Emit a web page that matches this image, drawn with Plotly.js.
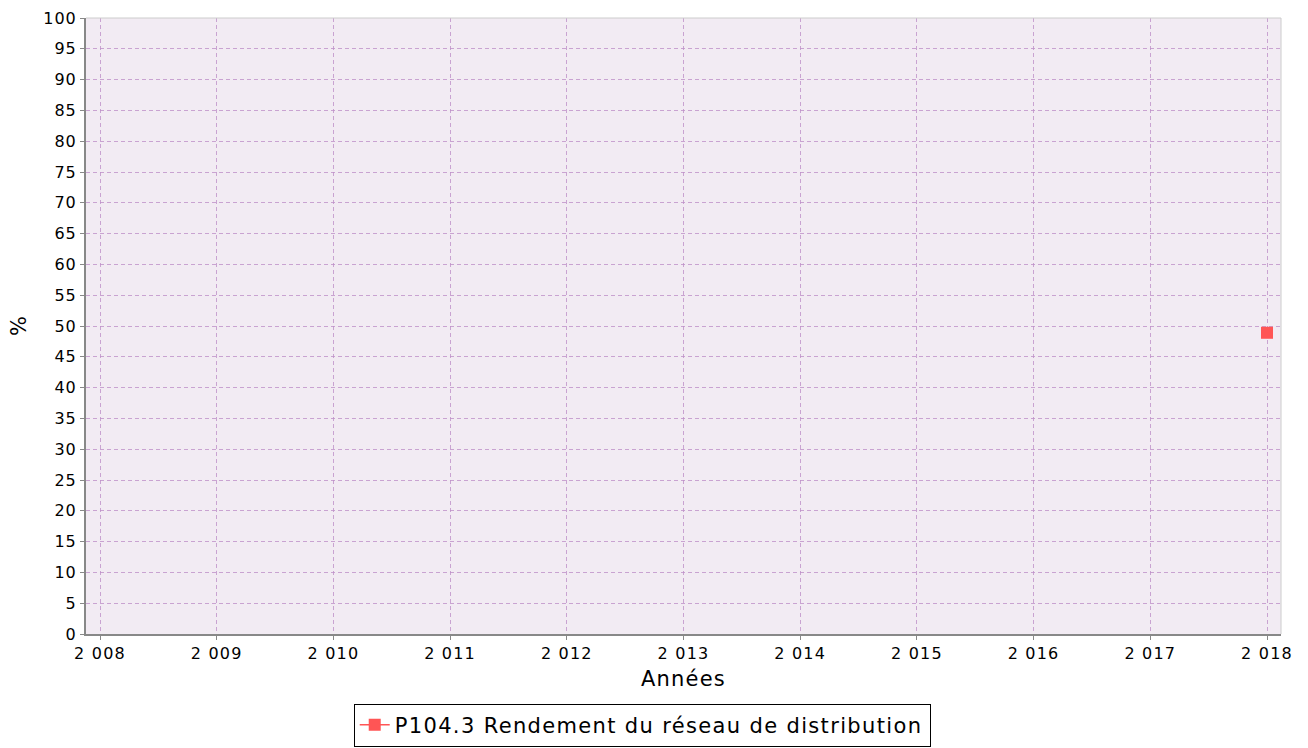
<!DOCTYPE html>
<html>
<head>
<meta charset="utf-8">
<script src="https://cdn.plot.ly/plotly-3.0.1.min.js"></script>
<style>
body{margin:0;background:#fff;}
#chart{width:1308px;height:748px;}
#chart .legendtext{letter-spacing:1.35px;}
#chart .xtitle{letter-spacing:1.2px;}
#chart .xtick text{letter-spacing:1.2px;}
#chart .ytick text{letter-spacing:1px;}
</style>
</head>
<body>
<div id="chart"></div>
<script>
const years = [2018];
const values = [48.9];
const seriesName = "P104.3 Rendement du réseau de distribution";
const xTickVals = [2008, 2009, 2010, 2011, 2012, 2013, 2014, 2015, 2016, 2017, 2018];
const xTickText = ["2 008", "2 009", "2 010", "2 011", "2 012", "2 013", "2 014", "2 015", "2 016", "2 017", "2 018"];
const yTickVals = [0,5,10,15,20,25,30,35,40,45,50,55,60,65,70,75,80,85,90,95,100];

const fam = "DejaVu Sans, sans-serif";
const tickFont = {family: fam, size: 16, color: "#000"};
const titleFont = {family: fam, size: 21, color: "#000"};
const trace = {
  x: years, y: values, name: seriesName,
  type: "scatter", mode: "lines+markers",
  line: {color: "#ff5555", width: 1.5},
  marker: {symbol: "square", size: 12, color: "#ff5555"},
  showlegend: true
};
const grid = {showgrid: true, gridcolor: "rgba(190,145,200,0.8)", griddash: "4px,3px", gridwidth: 1};
const layout = {
  width: 1308, height: 748,
  margin: {l: 86, r: 27, t: 18, b: 114, autoexpand: false},
  paper_bgcolor: "#ffffff",
  plot_bgcolor: "#f2ebf3",
  font: tickFont,
  showlegend: true,
  legend: {
    orientation: "h", xref: "container", yref: "container",
    x: 0.491, xanchor: "center", y: 0.002, yanchor: "bottom",
    bordercolor: "#000", borderwidth: 1, bgcolor: "#fff",
    font: {family: fam, size: 21, color: "#000"},
    entrywidth: 530, entrywidthmode: "pixels",
    tracegroupgap: 0
  },
  xaxis: Object.assign({
    range: [2007.88, 2018.12],
    tickvals: xTickVals, ticktext: xTickText,
    showline: true, linecolor: "#888888", linewidth: 2,
    ticks: "outside", ticklen: 4, tickcolor: "#888888",
    zeroline: false, automargin: false,
    tickfont: tickFont,
    title: {text: "Années", font: titleFont, standoff: 9}
  }, grid),
  yaxis: Object.assign({
    range: [0, 100],
    tickvals: yTickVals,
    showline: true, linecolor: "#888888", linewidth: 2,
    ticks: "outside", ticklen: 4, tickcolor: "#888888",
    zeroline: false, automargin: false,
    tickfont: tickFont,
    title: {text: "%", font: titleFont, standoff: 14}
  }, grid),
  shapes: [{type: "line", xref: "paper", yref: "paper", x0: 1, x1: 1, y0: 0, y1: 1, line: {color: "#cccccc", width: 1}},
           {type: "line", xref: "paper", yref: "paper", x0: 0, x1: 1, y0: 1, y1: 1, line: {color: "#cccccc", width: 1}}]
};
Plotly.newPlot("chart", [trace], layout, {displayModeBar: false, staticPlot: true});
</script>
</body>
</html>
